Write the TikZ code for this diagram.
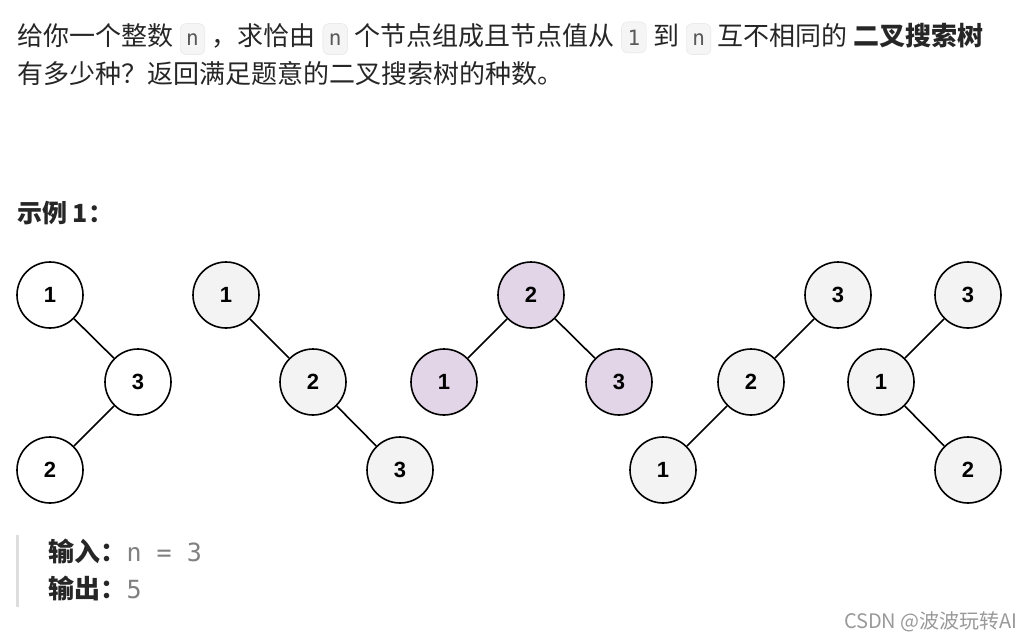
\documentclass[tikz,border=0pt]{standalone}
\usepackage{fontspec}
\setmainfont{Noto Sans CJK SC}
\newfontfamily\codefont{DejaVu Sans Mono}
\newfontfamily\numfont{Liberation Sans}
\usetikzlibrary{positioning}
\definecolor{nodegray}{HTML}{F3F3F3}
\definecolor{nodepurple}{HTML}{E1D5E7}
\definecolor{codeback}{HTML}{F5F5F5}
\definecolor{codeline}{HTML}{E3E3E3}
\definecolor{bargray}{HTML}{DDDDDD}
\definecolor{textgray}{HTML}{262626}
\newcommand{\inlinecode}[1]{\hspace{1pt}\tikz[baseline=(c.base)]\node[fill=codeback,draw=codeline,rounded corners=6pt,inner xsep=6pt,minimum height=31pt,text depth=0pt](c){\codefont\fontsize{21}{21}\selectfont\color{gray!70!black}#1};\hspace{1pt}}

\begin{document}
\begin{tikzpicture}
[x=1pt,y=-1pt,
 bst/.style={draw,circle,line width=1.6pt,minimum size=66pt,inner sep=0pt,
   font=\numfont\bfseries\fontsize{22}{22}\selectfont},
 plain/.style={bst,fill=white}, grey/.style={bst,fill=nodegray},
 lilac/.style={bst,fill=nodepurple},
 txt/.style={anchor=base west,inner sep=0pt,text=textgray,font=\fontsize{26}{26}\selectfont}]
\useasboundingbox (0,0) rectangle (1033,640);
\node[txt] (line1) at (17,45) {给你一个整数 \inlinecode{n} ，求恰由 \inlinecode{n} 个节点组成且节点值从 \inlinecode{1} 到 \inlinecode{n} 互不相同的 \textbf{二叉搜索树}};
\node[txt] (line2) at (17,83) {有多少种？返回满足题意的二叉搜索树的种数。};
\node[txt,font=\bfseries\fontsize{25}{25}\selectfont] (example) at (17,222) {示例 1：};
% tree 1
\node[plain] (a1) at (50,295) {1}; \node[plain] (a3) at (138,382) {3};
\node[plain] (a2) at (50,470) {2};
\path (a1) edge[line width=1.6pt] (a3); \path (a3) edge[line width=1.6pt] (a2);
% tree 2
\node[grey] (b1) at (226,295) {1}; \node[grey] (b2) at (313,382) {2};
\node[grey] (b3) at (400,470) {3};
\path (b1) edge[line width=1.6pt] (b2); \path (b2) edge[line width=1.6pt] (b3);
% tree 3
\node[lilac] (c2) at (531,295) {2}; \node[lilac] (c1) at (444,382) {1};
\node[lilac] (c3) at (619,382) {3};
\path (c2) edge[line width=1.6pt] (c1); \path (c2) edge[line width=1.6pt] (c3);
% tree 4
\node[grey] (d3) at (838,295) {3}; \node[grey] (d2) at (751,382) {2};
\node[grey] (d1) at (663,470) {1};
\path (d3) edge[line width=1.6pt] (d2); \path (d2) edge[line width=1.6pt] (d1);
% tree 5
\node[grey] (e3) at (968,295) {3}; \node[grey] (e1) at (881,382) {1};
\node[grey] (e2) at (968,470) {2};
\path (e3) edge[line width=1.6pt] (e1); \path (e1) edge[line width=1.6pt] (e2);
% input / output
\fill[bargray] (16,535) rectangle (19,607);
\node[txt,font=\bfseries\fontsize{26}{26}\selectfont] (input) at (48,561) {输入：};
\node[txt,anchor=base west,font=\codefont\fontsize{25}{25}\selectfont,text=gray] (inval) at (input.base east) {n = 3};
\node[txt,font=\bfseries\fontsize{26}{26}\selectfont] (output) at (48,598) {输出：};
\node[txt,anchor=base west,font=\codefont\fontsize{25}{25}\selectfont,text=gray] (outval) at (output.base east) {5};
\node[txt,anchor=base east,font=\fontsize{20}{20}\selectfont,text=gray!80] (mark) at (1018,628) {CSDN @波波玩转AI};
\end{tikzpicture}
\end{document}
